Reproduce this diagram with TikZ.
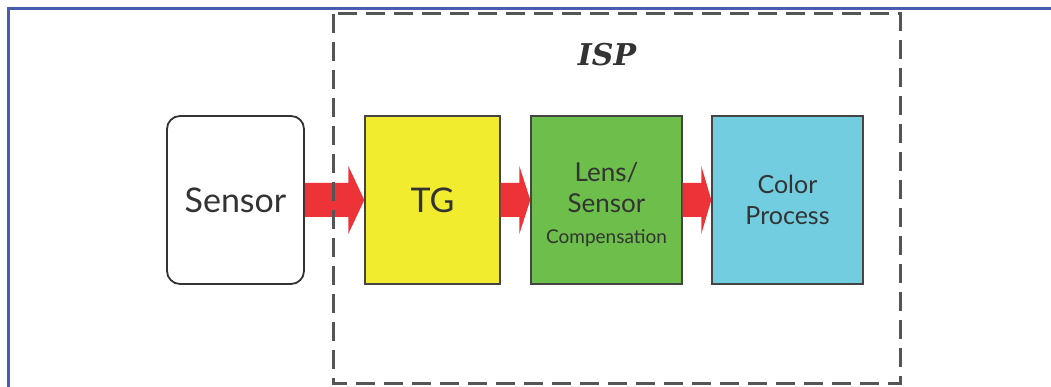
\documentclass[tikz,border=0pt]{standalone}
\usepackage{fontspec}
\setmainfont{Lato}
\newfontfamily\ispfont{DejaVu Serif}
\usetikzlibrary{calc}

\definecolor{framblue}{HTML}{4A5CB0}
\definecolor{dashgray}{HTML}{555555}
\definecolor{edgegray}{HTML}{444444}
\definecolor{inkgray}{HTML}{333333}
\definecolor{tgyellow}{HTML}{F2EC2E}
\definecolor{lensgreen}{HTML}{6DBE4B}
\definecolor{colorcyan}{HTML}{72CDE0}
\definecolor{arrowred}{HTML}{EE3338}

% red block arrow from the east side of #1 to the west side of #2, head length #3
\newcommand\flowarrow[3]{%
  \fill[arrowred] ($(#1.east)+(0,-17)$) -- ($(#2.west)+(-#3,-17)$)
    -- ($(#2.west)+(-#3,-34)$) -- (#2.west) -- ($(#2.west)+(-#3,34)$)
    -- ($(#2.west)+(-#3,17)$) -- ($(#1.east)+(0,17)$) -- cycle;}

\begin{document}
\begin{tikzpicture}[x=1pt,y=-1pt,
  block/.style={draw=edgegray, line width=1.4pt, minimum height=168pt,
    inner sep=0pt, text=inkgray, align=center},
  bigtxt/.style={font=\fontsize{34}{40}\selectfont},
  midtxt/.style={font=\fontsize{25}{31}\selectfont}]
  \useasboundingbox (0,0) rectangle (1051,387);
  \fill[white] (0,0) rectangle (1051,387);

  % outer frame (only top and left edges fall inside the page)
  \draw[framblue, line width=3pt] (8,400) -- (8,9) -- (1060,9);

  % processing blocks
  \node[block, rounded corners=13pt, line width=1.8pt, draw=inkgray,
        minimum width=137pt, bigtxt] (sensor) at (235.5,200) {Sensor};
  \node[block, fill=tgyellow, minimum width=135pt, bigtxt] (tg) at (432.5,200) {TG};
  \node[block, fill=lensgreen, minimum width=151pt,
        font=\fontsize{26}{31}\selectfont] (lens) at (606.5,200) {};
  \node[text=inkgray, align=center, inner sep=0pt, yshift=-5pt,
        font=\fontsize{26}{31}\selectfont] (lenstext) at (lens.center)
    {Lens/\\Sensor\\{\fontsize{19}{20}\selectfont Compensation}};
  \node[block, fill=colorcyan, minimum width=151pt, midtxt] (color) at (787.5,200)
    {Color\\Process};

  % data flow
  \flowarrow{sensor}{tg}{16}
  \flowarrow{tg}{lens}{11}
  \flowarrow{lens}{color}{10}

  % ISP boundary
  \node[font=\ispfont\bfseries\itshape\fontsize{30}{36}\selectfont, text=inkgray]
    (isp) at (607,55) {ISP};
  \draw[dashgray, line width=3pt, dash pattern=on 19pt off 9pt]
    (333,14) rectangle (900,383);
\end{tikzpicture}
\end{document}
